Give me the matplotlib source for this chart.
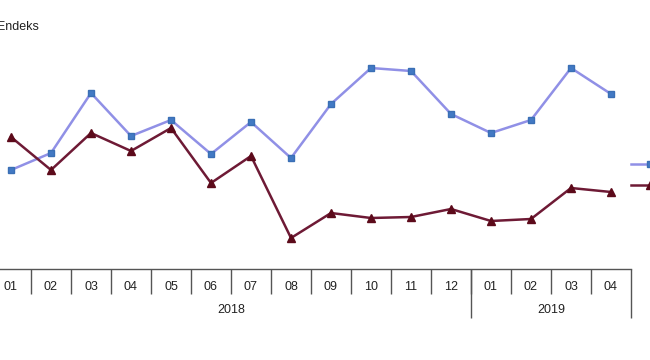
import matplotlib.pyplot as plt

plt.rcParams['font.family'] = ['Liberation Sans', 'DejaVu Sans']

months = ["01", "02", "03", "04", "05", "06", "07", "08", "09", "10", "11", "12",
          "01", "02", "03", "04"]
years = ["2018", "2019"]
year_months = [12, 4]

# index values (y scale not shown in the reference)
blue_values = [99, 116, 176, 133, 149, 115, 147, 111, 165, 201, 198, 155, 136, 149, 201, 175]
red_values = [132, 99, 136, 118, 141, 86, 113, 31, 56, 51, 52, 60, 48, 50, 81, 77]
series_labels = ["Seri 1", "Seri 2"]

W, H = 650, 360
fig = plt.figure(figsize=(W / 100, H / 100), dpi=100)

# plot area in pixels: left -9, right 631, top 40, bottom 269
ax = fig.add_axes([-9 / W, (H - 269) / H, 640 / W, 229 / H])
ax_h = 229

x = list(range(len(months)))
ax.plot(x, blue_values, color="#9090e6", lw=1.8, marker="s", ms=5,
        mfc="#4279c4", mec="#3a6fb5", label=series_labels[0])
ax.plot(x, red_values, color="#6e1a35", lw=1.8, marker="^", ms=6,
        mfc="#5c0a1a", mec="#5c0a1a", label=series_labels[1])

ax.set_xlim(-0.5, len(months) - 0.5)
ax.set_ylim(0, 229)
for s in ["top", "right", "left"]:
    ax.spines[s].set_visible(False)
ax.spines["bottom"].set_color("#555555")
ax.spines["bottom"].set_linewidth(1)
ax.set_yticks([])

ax.set_xticks(x)
ax.set_xticklabels(months, fontsize=9, color="#222222")
ax.tick_params(axis="x", length=0, pad=9)

# category separators
tr = ax.get_xaxis_transform()
short = -25 / ax_h
long = -49 / ax_h
ax.vlines([i + 0.5 for i in range(len(months) - 1)], short, 0, transform=tr,
          color="#555555", lw=1, clip_on=False)
start = -0.5
for yr, n in zip(years, year_months):
    end = start + n
    ax.vlines([end], long, 0, transform=tr, color="#555555", lw=1, clip_on=False)
    ax.text((start + end) / 2, -41 / ax_h, yr, transform=tr, ha="center",
            va="center", fontsize=9, color="#222222")
    start = end

fig.text(-3 / W, (H - 27) / H, "Endeks", fontsize=9, va="center", ha="left",
         color="#222222")

ax.legend(loc="center left", bbox_to_anchor=(1.0, (269 - 176) / ax_h),
          frameon=False, borderaxespad=0, borderpad=0, handlelength=3,
          fontsize=9, labelspacing=0.75)

fig.savefig("out.png", dpi=100)
